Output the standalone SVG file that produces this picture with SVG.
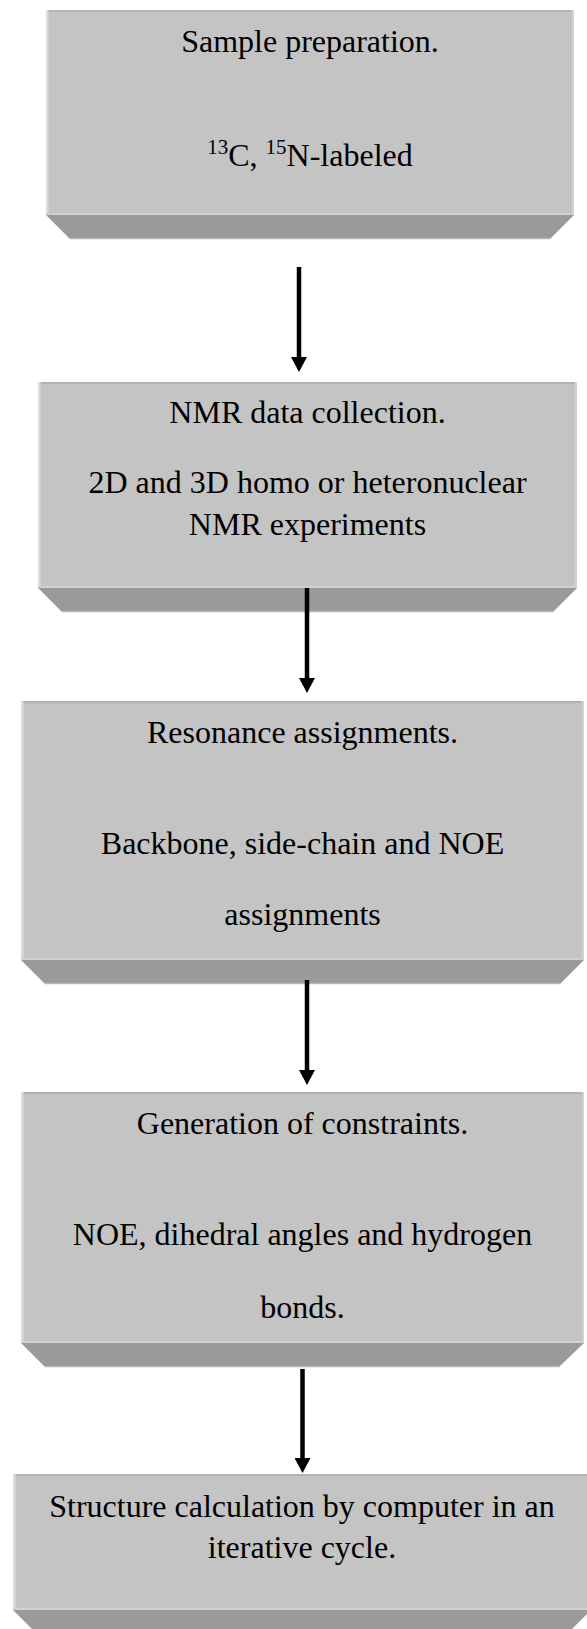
<svg xmlns="http://www.w3.org/2000/svg" width="587" height="1629" viewBox="0 0 587 1629">
  <style>
    .face { fill: #c4c4c4; }
    .top-edge { stroke: #b2b2b2; stroke-width: 2; }
    .left-edge { stroke: #dcdcdc; stroke-width: 2.5; }
    .right-edge { stroke: #d2d2d2; stroke-width: 2; }
    .face-base { stroke: #d0d0d0; stroke-width: 2; }
    .bevel { fill: #9a9a9a; }
    .bevel-base { stroke: #b6b6b6; stroke-width: 1.5; }
    .label { font-family: "Liberation Serif", "Times New Roman", serif; font-size: 32px; fill: #000; text-anchor: middle; }
    .sup { font-size: 21px; }
    .connector { stroke: #000; stroke-width: 4.5; fill: none; }
  </style>
  <defs>
    <marker id="arrowhead" markerUnits="userSpaceOnUse" markerWidth="16" markerHeight="16" viewBox="0 0 16 16" refX="0" refY="8" orient="auto">
      <path d="M0,0 L15,8 L0,16 z" fill="#000"/>
    </marker>
  </defs>

  <rect width="587" height="1629" fill="#fff"/>

  <!-- Step 1 -->
  <g id="sample-preparation">
    <rect class="face" x="46" y="10" width="528" height="205"/>
    <line class="top-edge" x1="46" y1="11" x2="574" y2="11"/>
    <line class="left-edge" x1="47.3" y1="10" x2="47.3" y2="215"/>
    <line class="right-edge" x1="573" y1="10" x2="573" y2="215"/>
    <line class="face-base" x1="46" y1="214" x2="574" y2="214"/>
    <polygon class="bevel" points="46,215 574,215 550,239 70,239"/>
    <line class="bevel-base" x1="70" y1="238.5" x2="550" y2="238.5"/>
    <text class="label" x="310" y="52">Sample preparation.</text>
    <text class="label" x="310" y="166"><tspan class="sup" dy="-12">13</tspan><tspan dy="12">C, </tspan><tspan class="sup" dy="-12">15</tspan><tspan dy="12">N-labeled</tspan></text>
  </g>

  <!-- Step 2 -->
  <g id="nmr-data-collection">
    <rect class="face" x="38" y="382" width="539" height="206"/>
    <line class="top-edge" x1="38" y1="383" x2="577" y2="383"/>
    <line class="left-edge" x1="39.3" y1="382" x2="39.3" y2="588"/>
    <line class="right-edge" x1="576" y1="382" x2="576" y2="588"/>
    <line class="face-base" x1="38" y1="587" x2="577" y2="587"/>
    <polygon class="bevel" points="38,588 577,588 553,612 62,612"/>
    <line class="bevel-base" x1="62" y1="611.5" x2="553" y2="611.5"/>
    <text class="label" x="307.5" y="423">NMR data collection.</text>
    <text class="label" x="307.5" y="493">2D and 3D homo or heteronuclear</text>
    <text class="label" x="307.5" y="535">NMR experiments</text>
  </g>

  <!-- Step 3 -->
  <g id="resonance-assignments">
    <rect class="face" x="21" y="701" width="563" height="259"/>
    <line class="top-edge" x1="21" y1="702" x2="584" y2="702"/>
    <line class="left-edge" x1="22.3" y1="701" x2="22.3" y2="960"/>
    <line class="right-edge" x1="583" y1="701" x2="583" y2="960"/>
    <line class="face-base" x1="21" y1="959" x2="584" y2="959"/>
    <polygon class="bevel" points="21,960 584,960 560,984 45,984"/>
    <line class="bevel-base" x1="45" y1="983.5" x2="560" y2="983.5"/>
    <text class="label" x="302.5" y="743">Resonance assignments.</text>
    <text class="label" x="302.5" y="854">Backbone, side-chain and NOE</text>
    <text class="label" x="302.5" y="925">assignments</text>
  </g>

  <!-- Step 4 -->
  <g id="constraint-generation">
    <rect class="face" x="21" y="1092" width="563" height="251"/>
    <line class="top-edge" x1="21" y1="1093" x2="584" y2="1093"/>
    <line class="left-edge" x1="22.3" y1="1092" x2="22.3" y2="1343"/>
    <line class="right-edge" x1="583" y1="1092" x2="583" y2="1343"/>
    <line class="face-base" x1="21" y1="1342" x2="584" y2="1342"/>
    <polygon class="bevel" points="21,1343 584,1343 559,1367 45,1367"/>
    <line class="bevel-base" x1="45" y1="1366.5" x2="559" y2="1366.5"/>
    <text class="label" x="302.5" y="1134">Generation of constraints.</text>
    <text class="label" x="302.5" y="1245">NOE, dihedral angles and hydrogen</text>
    <text class="label" x="302.5" y="1318">bonds.</text>
  </g>

  <!-- Step 5 -->
  <g id="structure-calculation">
    <rect class="face" x="13" y="1474" width="578" height="136"/>
    <line class="top-edge" x1="13" y1="1475" x2="591" y2="1475"/>
    <line class="left-edge" x1="14.3" y1="1474" x2="14.3" y2="1610"/>
    <line class="face-base" x1="13" y1="1609" x2="591" y2="1609"/>
    <polygon class="bevel" points="13,1610 591,1610 567,1634 37,1634"/>
    <text class="label" x="302" y="1517">Structure calculation by computer in an</text>
    <text class="label" x="302" y="1558">iterative cycle.</text>
  </g>

  <!-- Flow arrows between steps -->
  <g id="connectors">
    <line class="connector" x1="299" y1="267" x2="299" y2="357" marker-end="url(#arrowhead)"/>
    <line class="connector" x1="307" y1="588" x2="307" y2="678" marker-end="url(#arrowhead)"/>
    <line class="connector" x1="307" y1="980" x2="307" y2="1070" marker-end="url(#arrowhead)"/>
    <line class="connector" x1="302.5" y1="1369" x2="302.5" y2="1458" marker-end="url(#arrowhead)"/>
  </g>
</svg>
